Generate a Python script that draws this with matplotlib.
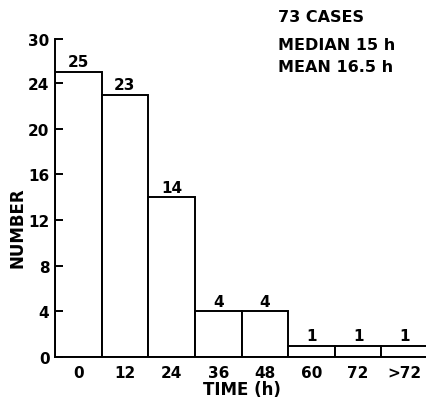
import matplotlib
matplotlib.use("Agg")
import matplotlib.pyplot as plt

categories = ["0", "12", "24", "36", "48", "60", "72", ">72"]
counts = [25, 23, 14, 4, 4, 1, 1, 1]
y_ticks = [0, 4, 8, 12, 16, 20, 24]
y_top = 27.85  # the drawn axis is shortened above 24; its top is labelled 30
notes = ["73 CASES", "MEDIAN 15 h", "MEAN 16.5 h"]

plt.rcParams["font.family"] = ["DejaVu Sans"]
figure = plt.figure(figsize=(4.26, 4.06), dpi=100)
axis = figure.add_axes([0.129, 0.118, 0.876, 0.783])

positions = list(range(len(categories)))
bars = axis.bar(positions, counts, width=1.0, align="edge", color="white",
                edgecolor="black", linewidth=1.4)
axis.bar_label(bars, labels=[str(c) for c in counts], padding=2, fontsize=11,
               fontweight="bold")

axis.set_xlim(0, len(categories))
axis.set_ylim(0, y_top)
axis.set_xticks([p + 0.5 for p in positions], categories)
axis.set_yticks(y_ticks + [y_top], [str(t) for t in y_ticks] + ["30"])
axis.tick_params(axis="y", direction="in", length=6, width=1.4, labelsize=11, pad=4)
axis.tick_params(axis="x", length=0, labelsize=11, pad=6)
for label in axis.get_xticklabels() + axis.get_yticklabels():
    label.set_fontweight("bold")

for side in ("top", "right"):
    axis.spines[side].set_visible(False)
for side in ("left", "bottom"):
    axis.spines[side].set_linewidth(1.4)

axis.set_xlabel("TIME (h)", fontsize=12, fontweight="bold", labelpad=0)
axis.set_ylabel("NUMBER", fontsize=12, fontweight="bold")
axis.yaxis.set_label_coords(-0.075, 0.41)

figure.text(0.653, 0.958, notes[0], fontsize=11.5, fontweight="bold", va="center")
figure.text(0.653, 0.889, notes[1], fontsize=11.5, fontweight="bold", va="center")
figure.text(0.653, 0.833, notes[2], fontsize=11.5, fontweight="bold", va="center")

figure.savefig("out.png", dpi=100)
plt.close(figure)
